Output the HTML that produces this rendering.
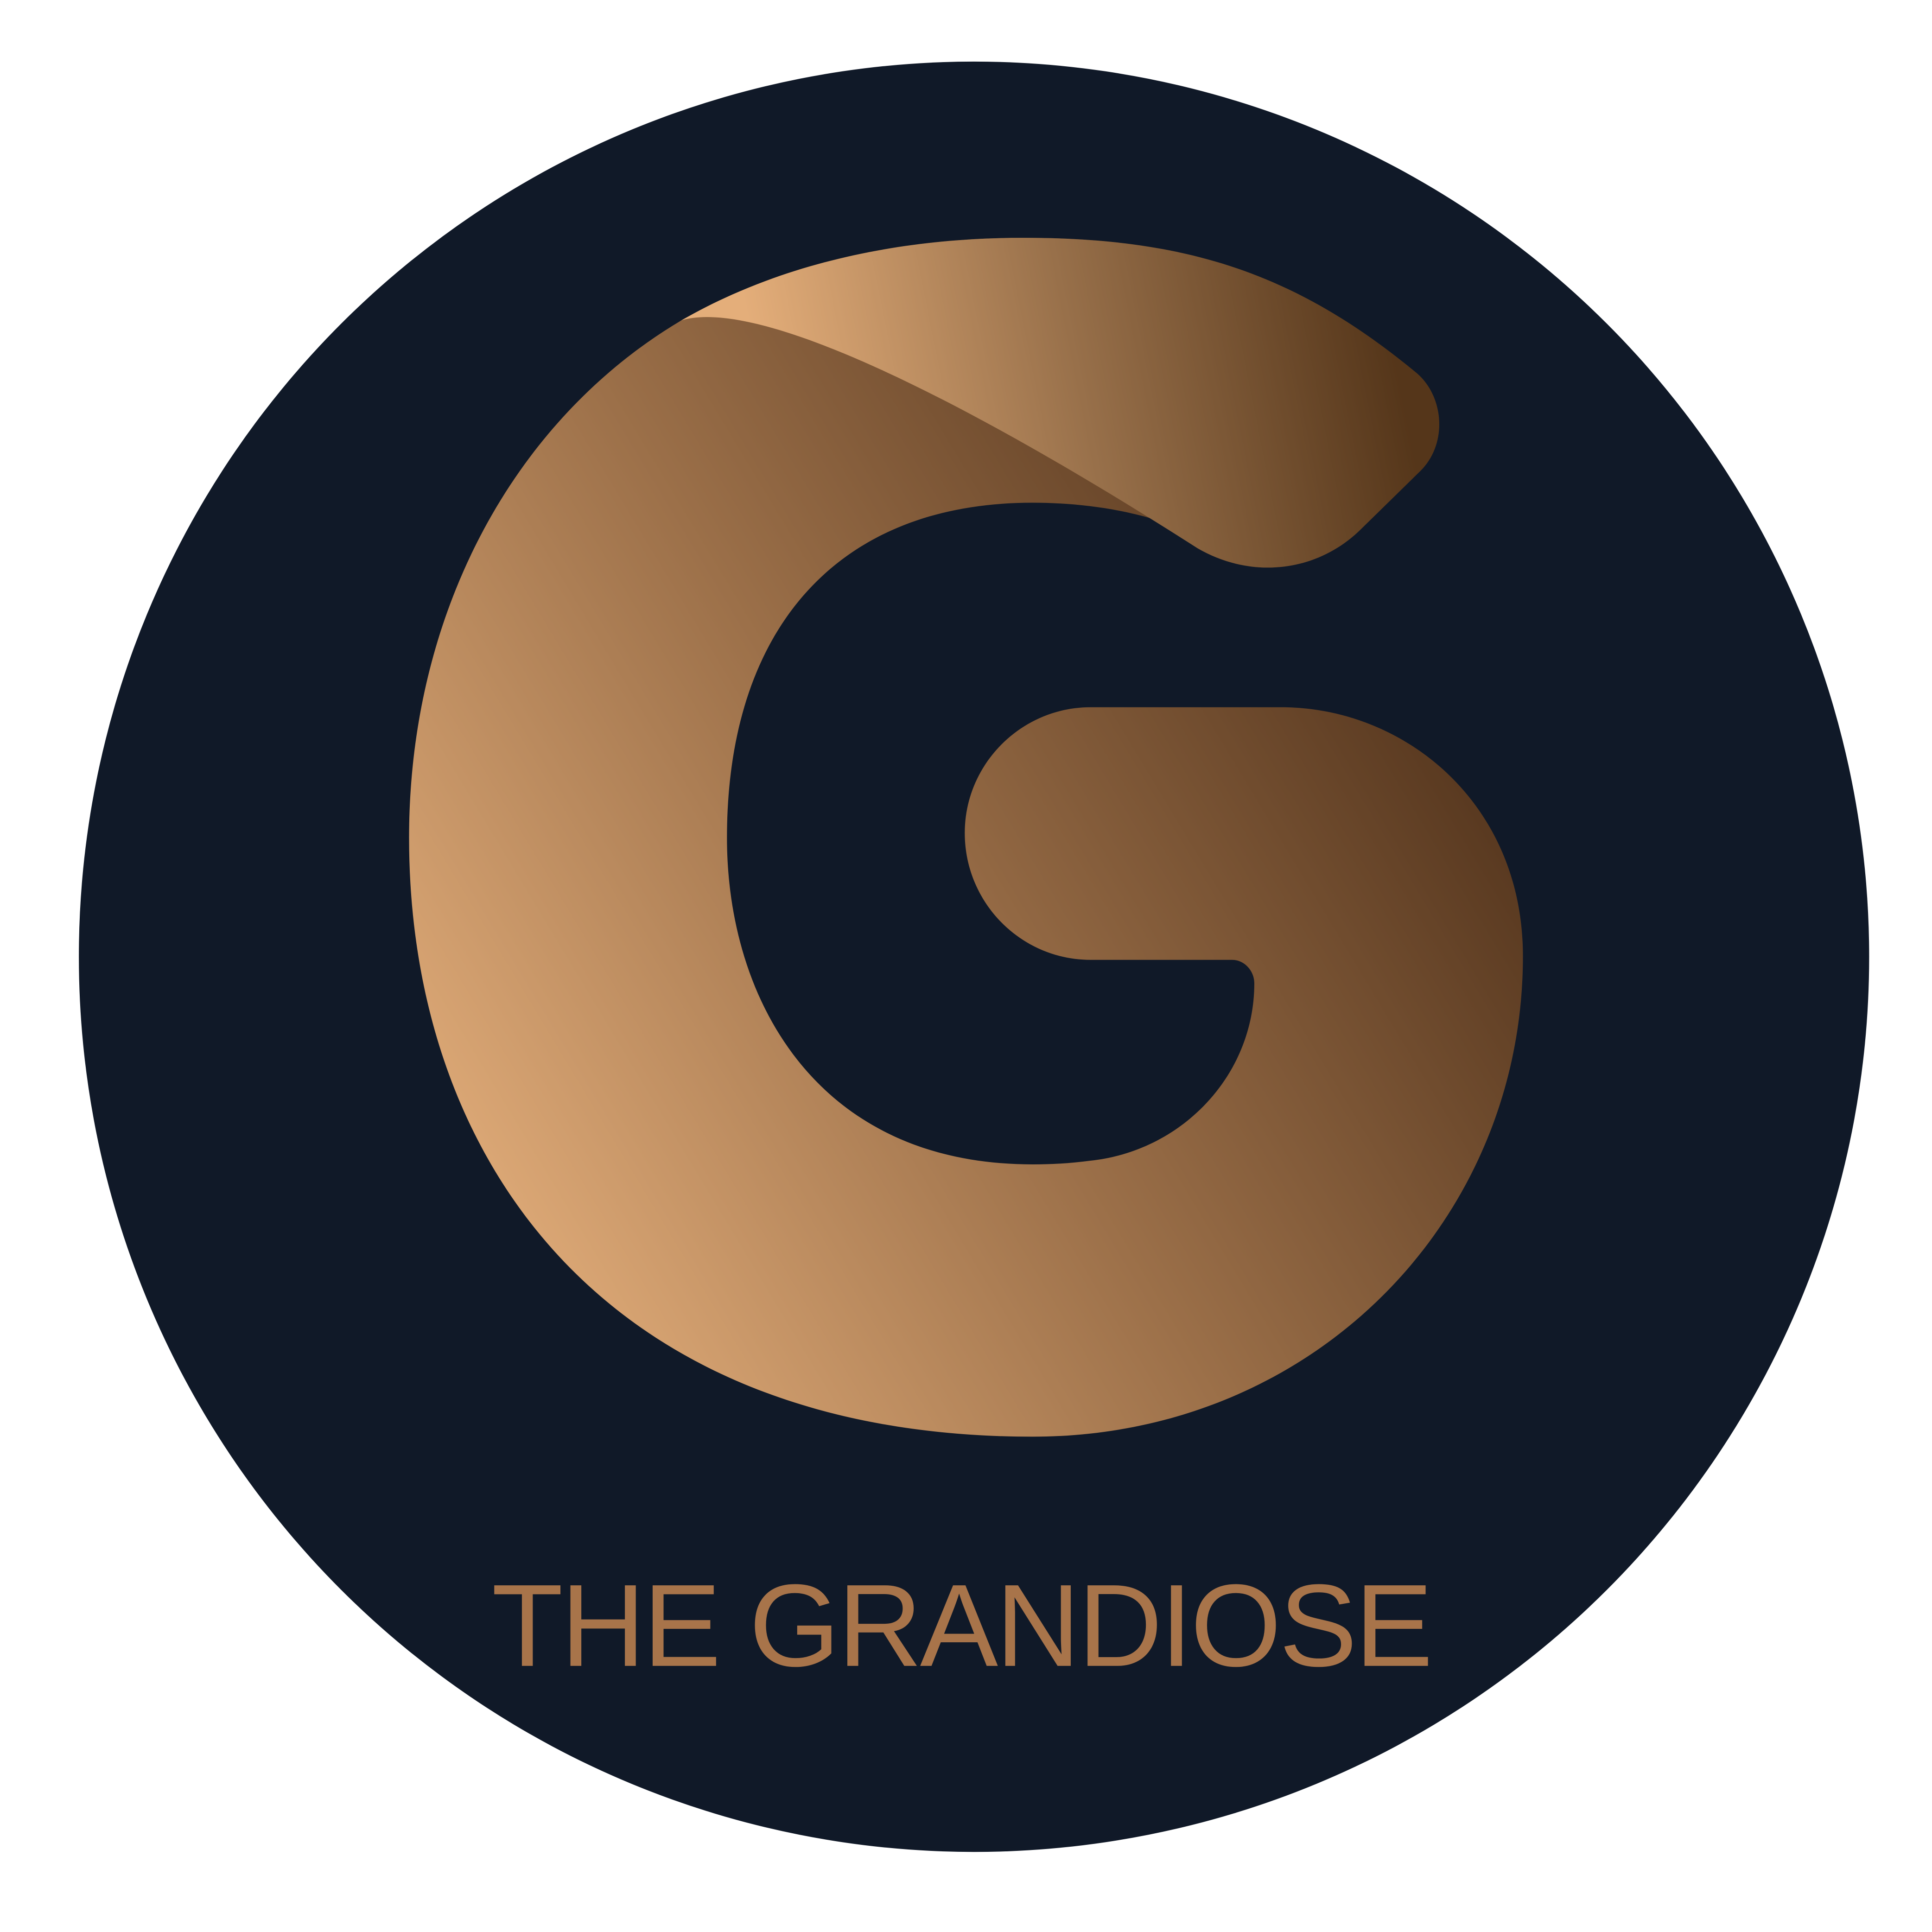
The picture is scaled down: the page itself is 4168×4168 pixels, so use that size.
<!DOCTYPE html>
<html>
<head>
<meta charset="utf-8">
<style>
  html,body{margin:0;padding:0;background:#fff;}
  svg{display:block;}
</style>
</head>
<body>
<svg width="4168" height="4168" viewBox="0 0 1568 1568" xmlns="http://www.w3.org/2000/svg">
  <defs>
    <linearGradient id="gMain" x1="430" y1="1010" x2="1210" y2="540" gradientUnits="userSpaceOnUse">
      <stop offset="0" stop-color="#dba775"/>
      <stop offset="0.45" stop-color="#9c7049"/>
      <stop offset="1" stop-color="#4f311a"/>
    </linearGradient>
    <linearGradient id="gFlap" x1="620" y1="330" x2="1120" y2="230" gradientUnits="userSpaceOnUse">
      <stop offset="0" stop-color="#e4ae7a"/>
      <stop offset="0.5" stop-color="#98704a"/>
      <stop offset="1" stop-color="#55361a"/>
    </linearGradient>
  </defs>
  <rect x="0" y="0" width="1568" height="1568" fill="#ffffff"/>
  <circle cx="790.5" cy="776.5" r="726.5" fill="#101928"/>
  <path fill="url(#gMain)" d="M553,260 C640,210 740,193 830,193 C960,193 1050,220 1150,303 C1172,322 1175,360 1153,382 L1104,430 C1068,465 1015,470 972,445 L935,421 C905,412 870,408 838,408 C680,408 590,510 590,680 C590,810 662,945 838,945 C855,945 870,944 885,942 C960,934 1018,872 1018,798 C1018,788 1010,779 1000,779 L885,779 C829,779 783,733 783,676 C783,620 829,574 885,574 L1040,574 C1140,574 1236,652 1236,776 C1236,990 1066,1166 838,1166 C490,1166 332,940 332,680 C332,500 415,342 553,260 Z"/>
  <path fill="url(#gFlap)" d="M553,260 C640,210 740,193 830,193 C960,193 1050,220 1150,303 C1172,322 1175,360 1153,382 L1104,430 C1068,465 1015,470 972,445 C800,335 620,240 553,260 Z"/>
  <text x="399" y="1352" textLength="764" lengthAdjust="spacing" font-family="'Liberation Sans', sans-serif" font-size="95" fill="#a8744a">THE GRANDIOSE</text>
</svg>
</body>
</html>
